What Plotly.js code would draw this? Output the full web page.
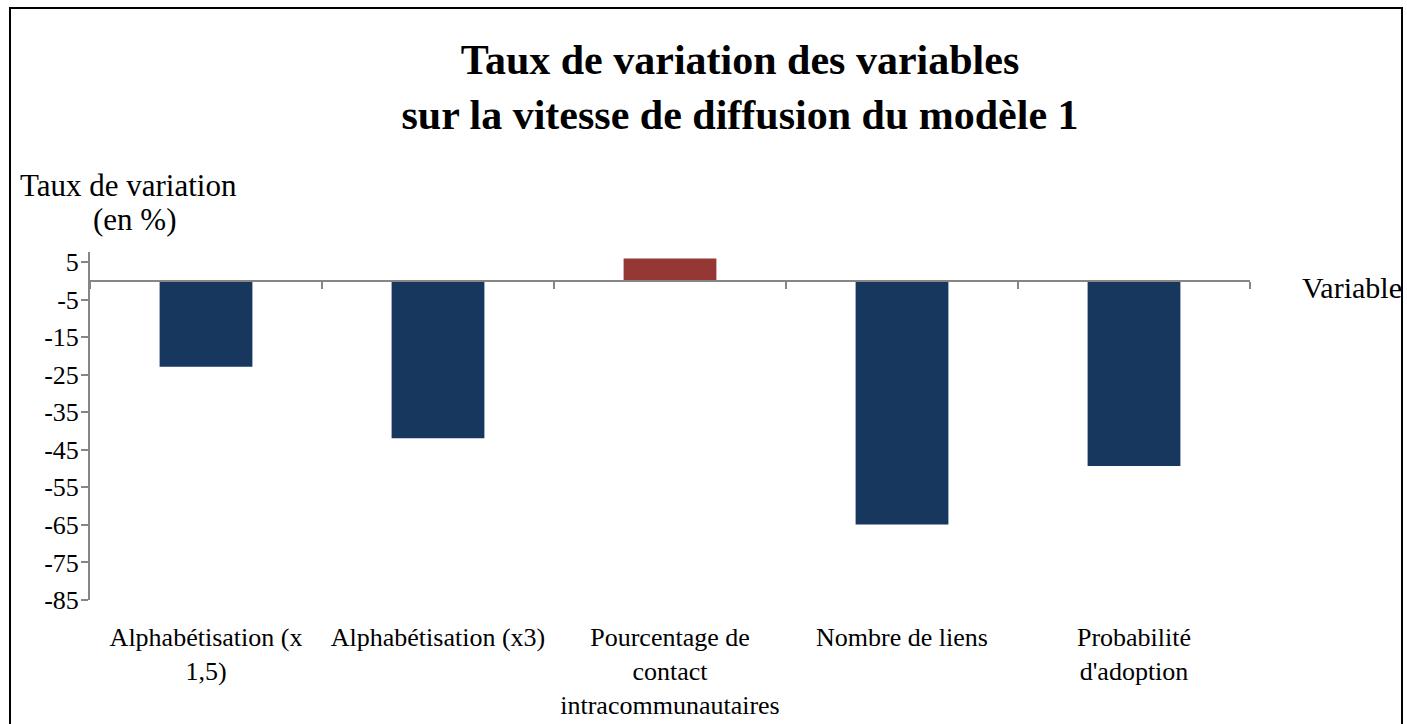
<!DOCTYPE html>
<html>
<head>
<meta charset="utf-8">
<script src="https://cdn.plot.ly/plotly-3.0.1.min.js"></script>
<style>
  html, body { margin: 0; padding: 0; background: #ffffff; }
  #wrap { position: relative; width: 1407px; height: 724px; overflow: hidden; }
  #chart { position: absolute; left: 0; top: 0; width: 1407px; height: 724px; }
  #frame { position: absolute; left: 9px; top: 7px; width: 1394px; height: 730px;
           border: 2px solid #000; pointer-events: none; box-sizing: border-box; }
</style>
</head>
<body>
<div id="wrap">
  <div id="chart"></div>
  <div id="frame"></div>
</div>
<script>
// ---- data ----
const categories = [
  "Alphabétisation (x 1,5)",
  "Alphabétisation (x3)",
  "Pourcentage de contact intracommunautaires",
  "Nombre de liens",
  "Probabilité d'adoption"
];
const tickLabels = [
  "Alphabétisation (x<br>1,5)",
  "Alphabétisation (x3)",
  "Pourcentage de<br>contact<br>intracommunautaires",
  "Nombre de liens",
  "Probabilité<br>d'adoption"
];
const values = [-22.9, -41.9, 6.0, -64.9, -49.3];
const yTickVals = [5, -5, -15, -25, -35, -45, -55, -65, -75, -85];

const titleText = "Taux de variation des variables<br>sur la vitesse de diffusion du modèle 1";
const yTitle1 = "Taux de variation";
const yTitle2 = "(en %)";
const xTitle = "Variable";

// ---- styling ----
const NAVY = "#17375E";
const RED = "#953735";
const AXIS = "#868686";
const FONT = "Liberation Serif, Times New Roman, serif";

const yMin = -85, yMax = 7.7;
const zeroPos = (0 - yMin) / (yMax - yMin);

const bars = {
  type: "bar",
  x: categories,
  y: values,
  width: 0.4,
  marker: { color: values.map(v => v > 0 ? RED : NAVY), line: { width: 0 } },
  hoverinfo: "x+y",
  showlegend: false
};
const dummy = { type: "scatter", x: [], y: [], xaxis: "x2", yaxis: "y", showlegend: false, hoverinfo: "skip" };

const layout = {
  width: 1407,
  height: 724,
  margin: { l: 90, r: 157, t: 252, b: 124, pad: 0 },
  paper_bgcolor: "#ffffff",
  plot_bgcolor: "#ffffff",
  font: { family: FONT, color: "#000000", size: 26 },
  title: {
    text: titleText,
    font: { family: FONT, size: 42, color: "#000000", weight: "bold" },
    x: 740 / 1407,
    xref: "container",
    xanchor: "center",
    y: 1 - 74 / 724,
    yref: "container",
    yanchor: "top"
  },
  bargap: 0.6,
  xaxis: {
    type: "category",
    tickmode: "array",
    tickvals: categories,
    ticktext: tickLabels,
    ticks: "",
    showline: false,
    showgrid: false,
    zeroline: false,
    tickfont: { family: FONT, size: 26, color: "#000000" },
    ticklabelstandoff: 19,
    range: [-0.5, 4.5],
    fixedrange: true
  },
  xaxis2: {
    overlaying: "x",
    anchor: "free",
    position: zeroPos,
    type: "linear",
    range: [-0.5, 4.5],
    tickmode: "linear",
    tick0: -0.5,
    dtick: 1,
    ticks: "outside",
    ticklen: 7,
    tickwidth: 2,
    tickcolor: AXIS,
    showticklabels: false,
    showline: true,
    linecolor: AXIS,
    linewidth: 2,
    showgrid: false,
    zeroline: false,
    fixedrange: true
  },
  yaxis: {
    range: [yMin, yMax],
    tickmode: "array",
    tickvals: yTickVals,
    ticktext: yTickVals.map(String),
    ticks: "outside",
    ticklen: 7,
    tickwidth: 2,
    tickcolor: AXIS,
    showline: true,
    linecolor: AXIS,
    linewidth: 2,
    showgrid: false,
    zeroline: false,
    tickfont: { family: FONT, size: 26, color: "#000000" },
    ticklabelstandoff: -3,
    fixedrange: true
  },
  annotations: [
    { text: yTitle1, xref: "paper", yref: "paper", x: (128 - 90) / 1160, y: (600 - 185) / 348,
      xanchor: "center", yanchor: "middle", showarrow: false, font: { family: FONT, size: 31, color: "#000" } },
    { text: yTitle2, xref: "paper", yref: "paper", x: (134 - 90) / 1160, y: (600 - 220) / 348,
      xanchor: "center", yanchor: "middle", showarrow: false, font: { family: FONT, size: 31, color: "#000" } },
    { text: xTitle, xref: "paper", yref: "paper", x: (1352 - 90) / 1160, y: (600 - 287) / 348,
      xanchor: "center", yanchor: "middle", showarrow: false, font: { family: FONT, size: 30, color: "#000" } }
  ]
};

Plotly.newPlot("chart", [bars, dummy], layout, { displayModeBar: false, staticPlot: true });
</script>
</body>
</html>
